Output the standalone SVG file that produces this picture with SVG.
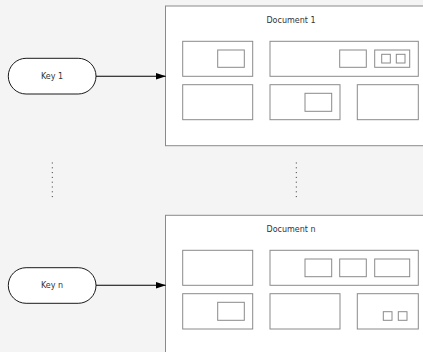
<svg xmlns="http://www.w3.org/2000/svg" width="423" height="352" viewBox="0 0 423 352">
<defs>
<style>
.bg{fill:#f4f4f4}
.doc{fill:#ffffff;stroke:#8a8a8a;stroke-width:1}
.box{fill:#ffffff;stroke:#8a8a8a;stroke-width:1}
.key{fill:#ffffff;stroke:#1a1a1a;stroke-width:1}
.t{font-family:"DejaVu Sans","Liberation Sans",sans-serif;font-size:8px;fill:#333333;text-anchor:middle}
.arr{stroke:#000000;stroke-width:1.1;fill:none}
.dot{stroke:#333333;stroke-width:1;stroke-dasharray:1 3.8;fill:none}
</style>
<marker id="ah" markerWidth="10" markerHeight="8" refX="9.5" refY="4" orient="auto" markerUnits="userSpaceOnUse">
<path d="M0,0.8 L10,4 L0,7.2 Z" fill="#000000"/>
</marker>
</defs>
<rect class="bg" x="0" y="0" width="423" height="352"/>
<g id="doc1">
<rect class="doc" x="165.5" y="6" width="270" height="139.7"/>
<text class="t" x="291" y="23">Document 1</text>
<rect class="box" x="182.7" y="41.3" width="70" height="35"/>
<rect class="box" x="217.7" y="50" width="26.6" height="17.3"/>
<rect class="box" x="270" y="41.3" width="148.3" height="35"/>
<rect class="box" x="339.7" y="50" width="26.6" height="17.3"/>
<rect class="box" x="374.7" y="50" width="35" height="17.3"/>
<rect class="box" x="381.7" y="54.3" width="8.6" height="8.7"/>
<rect class="box" x="396.3" y="54.3" width="8.7" height="8.7"/>
<rect class="box" x="182.7" y="84.7" width="70" height="35"/>
<rect class="box" x="270" y="84.7" width="70" height="35"/>
<rect class="box" x="305" y="93.3" width="26.7" height="18"/>
<rect class="box" x="357.3" y="84.7" width="61" height="35"/>
</g>
<g id="docn">
<rect class="doc" x="165.5" y="215.3" width="270" height="150"/>
<text class="t" x="291" y="231.5">Document n</text>
<rect class="box" x="182.7" y="250.3" width="70" height="35"/>
<rect class="box" x="270" y="250.3" width="148.3" height="35"/>
<rect class="box" x="305" y="259" width="26.7" height="17.7"/>
<rect class="box" x="339.7" y="259" width="26.6" height="17.7"/>
<rect class="box" x="374.7" y="259" width="35" height="17.7"/>
<rect class="box" x="182.7" y="293.7" width="70" height="35.3"/>
<rect class="box" x="217.7" y="302.3" width="26.6" height="18"/>
<rect class="box" x="270" y="293.7" width="70" height="35.3"/>
<rect class="box" x="357.3" y="293.7" width="61" height="35.3"/>
<rect class="box" x="383.3" y="311.7" width="8.7" height="8.6"/>
<rect class="box" x="398.3" y="311.7" width="8.7" height="8.6"/>
</g>
<g id="key1">
<rect class="key" x="8.3" y="58.3" width="87.7" height="35.7" rx="17.8" ry="17.8"/>
<text class="t" x="52" y="79">Key 1</text>
</g>
<g id="keyn">
<rect class="key" x="8.3" y="267.7" width="87.7" height="35.6" rx="17.8" ry="17.8"/>
<text class="t" x="52" y="288">Key n</text>
</g>
<g id="connectors">
<line class="arr" x1="96" y1="76.3" x2="165.5" y2="76.3" marker-end="url(#ah)"/>
<line class="arr" x1="96" y1="285.3" x2="165.5" y2="285.3" marker-end="url(#ah)"/>
<line class="dot" x1="52.3" y1="162.5" x2="52.3" y2="200"/>
<line class="dot" x1="296.3" y1="162.5" x2="296.3" y2="200"/>
</g>
</svg>
